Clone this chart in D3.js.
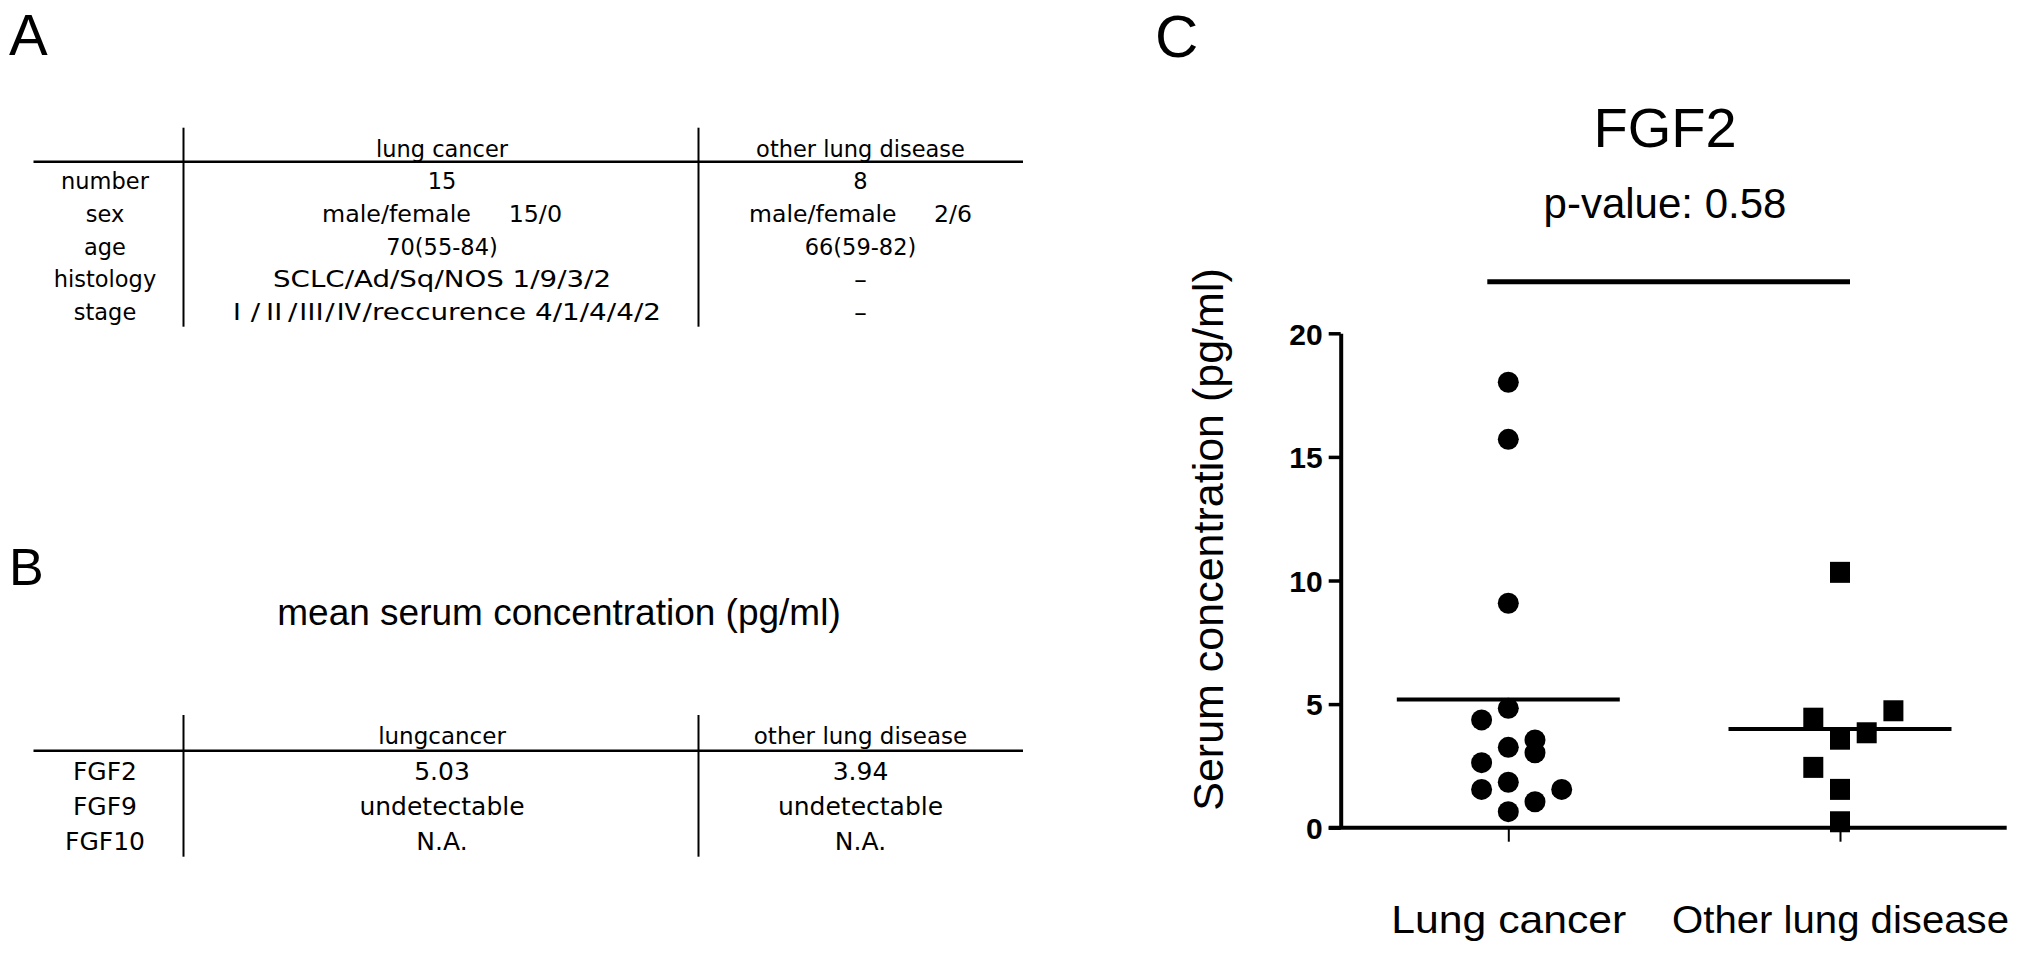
<!DOCTYPE html>
<html>
<head>
<meta charset="utf-8">
<script src="https://cdn.jsdelivr.net/npm/d3@7"></script>
<style>
html,body{margin:0;padding:0;background:#fff;}
svg{display:block;}
text{white-space:pre;}
</style>
</head>
<body>
<svg id="chart" width="2031" height="954"></svg>
<script>
// ---------------- DATA ----------------
// Panel A table
const tableAHeaders = ["lung cancer", "other lung disease"];
const tableARowLabels = ["number", "sex", "age", "histology", "stage"];
const tableALungCancer = ["15", "male/female     15/0", "70(55-84)", "SCLC/Ad/Sq/NOS 1/9/3/2", "Ⅰ/Ⅱ/Ⅲ/Ⅳ/reccurence 4/1/4/4/2"];
const tableAOtherDisease = ["8", "male/female     2/6", "66(59-82)", "-", "-"];

// Panel B table
const tableBTitle = "mean serum concentration (pg/ml)";
const tableBHeaders = ["lungcancer", "other lung disease"];
const tableBRowLabels = ["FGF2", "FGF9", "FGF10"];
const tableBLungCancer = ["5.03", "undetectable", "N.A."];
const tableBOtherDisease = ["3.94", "undetectable", "N.A."];

// Panel C scatter
const panelCTitle = "FGF2";
const panelCPValue = "p-value: 0.58";
const yAxisLabel = "Serum concentration (pg/ml)";
const categories = ["Lung cancer", "Other lung disease"];
const lungCancerValues  = [18.02, 15.71, 9.08, 4.83, 4.36, 3.55, 3.25, 3.03, 2.63, 1.84, 1.55, 1.55, 1.05, 0.65];
const lungCancerColumns = [0, 0, 0, 0, -1, 1, 0, 1, -1, 0, -1, 2, 1, 0];
const otherDiseaseValues  = [10.33, 4.73, 4.43, 3.84, 3.58, 2.44, 1.55, 0.24];
const otherDiseaseColumns = [0, 2, -1, 1, 0, -1, 0, 0];
const meanLineValues = [5.19, 3.99];
const yTickValues = [0, 5, 10, 15, 20];
const panelLabels = ["A", "B", "C"];

// ---------------- LAYOUT ----------------
const W = 2031, H = 954;
const tableFont = "'DejaVu Sans', 'Noto Sans', sans-serif";
const cjkFont = "'Noto Sans CJK JP', 'DejaVu Sans', sans-serif";
const sansFont = "'Liberation Sans', Arial, Helvetica, sans-serif";

const tableCols = [105, 442, 860.5];
const tableVLines = [183.5, 698.5];
const tableRuleX = [33.5, 1023];

const layoutA = {top: 127.7, bottom: 326.7, headerBaseline: 157, ruleY: 161.7,
                 firstRow: 189.3, rowStep: 32.7, headerSize: 22.5, rowSize: 22.5,
                 fit: {"1-1": 240, "1-2": 223, "3-1": 338, "4-1": 438, "3-2": 14, "4-2": 14}};
const layoutB = {top: 715, bottom: 856.7, headerBaseline: 744, ruleY: 750.7,
                 firstRow: 780, rowStep: 35, headerSize: 23, rowSize: 25, fit: {}};
const xLabelWidths = [235, 337];

const svg = d3.select("#chart");
svg.append("rect").attr("width", W).attr("height", H).attr("fill", "#fff");

// ---------------- PANEL LABELS ----------------
const labelPos = [{x: 9, y: 55, s: 58}, {x: 9, y: 585, s: 52}, {x: 1155, y: 57, s: 60}];
svg.selectAll("text.panel-label")
  .data(panelLabels)
  .join("text")
  .attr("class", "panel-label")
  .attr("x", (d, i) => labelPos[i].x)
  .attr("y", (d, i) => labelPos[i].y)
  .attr("font-family", sansFont)
  .attr("font-size", (d, i) => labelPos[i].s)
  .attr("fill", "#000")
  .text(d => d);

// ---------------- TABLE DRAWING ----------------
function addCellText(g, txt, x, y, size, fitW) {
  const t = g.append("text")
    .attr("x", x).attr("y", y)
    .attr("text-anchor", "middle")
    .attr("font-family", tableFont)
    .attr("font-size", size)
    .attr("fill", "#000");
  const parts = txt.split(/([\u2160-\u216F]+)/).filter(p => p.length);
  parts.forEach(p => {
    const ts = t.append("tspan").text(p);
    if (/^[\u2160-\u216F]+$/.test(p)) ts.attr("font-family", cjkFont);
  });
  if (fitW) t.attr("textLength", fitW).attr("lengthAdjust", "spacingAndGlyphs");
  return t;
}

function drawTable(headers, rowLabels, col1, col2, L) {
  const g = svg.append("g");
  const rowY = d3.scaleLinear().domain([0, 1]).range([L.firstRow, L.firstRow + L.rowStep]);
  g.selectAll("line.v").data(tableVLines).join("line")
    .attr("x1", d => d).attr("x2", d => d)
    .attr("y1", L.top).attr("y2", L.bottom)
    .attr("stroke", "#000").attr("stroke-width", 2);
  g.append("line")
    .attr("x1", tableRuleX[0]).attr("x2", tableRuleX[1])
    .attr("y1", L.ruleY).attr("y2", L.ruleY)
    .attr("stroke", "#000").attr("stroke-width", 2.6);
  headers.forEach((h, i) => addCellText(g, h, tableCols[i + 1], L.headerBaseline, L.headerSize));
  rowLabels.forEach((r, i) => addCellText(g, r, tableCols[0], rowY(i), L.rowSize));
  col1.forEach((c, i) => addCellText(g, c, tableCols[1], rowY(i), L.rowSize, L.fit[i + "-1"]));
  col2.forEach((c, i) => addCellText(g, c, tableCols[2], rowY(i), L.rowSize, L.fit[i + "-2"]));
}

drawTable(tableAHeaders, tableARowLabels, tableALungCancer, tableAOtherDisease, layoutA);

svg.append("text")
  .attr("x", 559).attr("y", 625)
  .attr("text-anchor", "middle")
  .attr("font-family", sansFont)
  .attr("font-size", 37)
  .attr("fill", "#000")
  .text(tableBTitle);

drawTable(tableBHeaders, tableBRowLabels, tableBLungCancer, tableBOtherDisease, layoutB);

// ---------------- PANEL C ----------------
const y = d3.scaleLinear().domain([0, 20]).range([827.7, 333.3]);
const x = d3.scalePoint().domain(categories).range([1508.3, 1840]);
const jitterStep = 26.7;
const axisX = 1340.7;

const gC = svg.append("g");

// Y axis
const yAxis = gC.append("g")
  .attr("transform", `translate(${axisX},0)`)
  .call(d3.axisLeft(y).tickValues(yTickValues).tickSize(12).tickSizeOuter(0).tickPadding(5).tickFormat(d3.format("d")));
yAxis.select(".domain").attr("stroke", "#000").attr("stroke-width", 4);
yAxis.selectAll(".tick line").attr("stroke", "#000").attr("stroke-width", 3.5);
yAxis.selectAll(".tick text")
  .attr("font-family", sansFont).attr("font-size", 30).attr("font-weight", "bold")
  .attr("fill", "#000").attr("x", -18).attr("dy", "0.36em");

// X axis baseline
gC.append("line")
  .attr("x1", axisX - 12).attr("x2", 2006.7)
  .attr("y1", y(0)).attr("y2", y(0))
  .attr("stroke", "#000").attr("stroke-width", 4);

// X axis ticks + labels
const xAxis = gC.append("g")
  .attr("transform", `translate(0,${y(0)})`)
  .call(d3.axisBottom(x).tickSize(14).tickSizeOuter(0));
xAxis.select(".domain").remove();
xAxis.selectAll(".tick line").attr("stroke", "#000").attr("stroke-width", 2);
xAxis.selectAll(".tick text")
  .attr("font-family", sansFont).attr("font-size", 39)
  .attr("fill", "#000").attr("y", 105.3).attr("dy", 0)
  .attr("textLength", (d, i) => xLabelWidths[i])
  .attr("lengthAdjust", "spacingAndGlyphs");

// Y axis label
gC.append("text")
  .attr("transform", "translate(1223,539.5) rotate(-90)")
  .attr("text-anchor", "middle")
  .attr("font-family", sansFont).attr("font-size", 43)
  .attr("fill", "#000")
  .text(yAxisLabel);

// Title & p-value
gC.append("text")
  .attr("x", 1665).attr("y", 146.7)
  .attr("text-anchor", "middle")
  .attr("font-family", sansFont).attr("font-size", 56)
  .attr("fill", "#000").text(panelCTitle);
gC.append("text")
  .attr("x", 1665).attr("y", 218)
  .attr("text-anchor", "middle")
  .attr("font-family", sansFont).attr("font-size", 42)
  .attr("fill", "#000").text(panelCPValue);

// Comparison bracket line
gC.append("line")
  .attr("x1", x(categories[0]) - 21).attr("x2", x(categories[1]) + 10)
  .attr("y1", 281.7).attr("y2", 281.7)
  .attr("stroke", "#000").attr("stroke-width", 5);

// Mean lines
gC.selectAll("line.mean")
  .data(meanLineValues)
  .join("line")
  .attr("class", "mean")
  .attr("x1", (d, i) => x(categories[i]) - 111.5)
  .attr("x2", (d, i) => x(categories[i]) + 111.5)
  .attr("y1", d => y(d)).attr("y2", d => y(d))
  .attr("stroke", "#000").attr("stroke-width", 4);

// Lung cancer points (circles)
gC.selectAll("circle.lc")
  .data(lungCancerValues)
  .join("circle")
  .attr("class", "lc")
  .attr("cx", (d, i) => x(categories[0]) + lungCancerColumns[i] * jitterStep)
  .attr("cy", d => y(d))
  .attr("r", 10.5)
  .attr("fill", "#000");

// Other lung disease points (squares)
gC.selectAll("rect.old")
  .data(otherDiseaseValues)
  .join("rect")
  .attr("class", "old")
  .attr("x", (d, i) => x(categories[1]) + otherDiseaseColumns[i] * jitterStep - 10)
  .attr("y", d => y(d) - 10.5)
  .attr("width", 20).attr("height", 21)
  .attr("fill", "#000");
</script>
</body>
</html>
